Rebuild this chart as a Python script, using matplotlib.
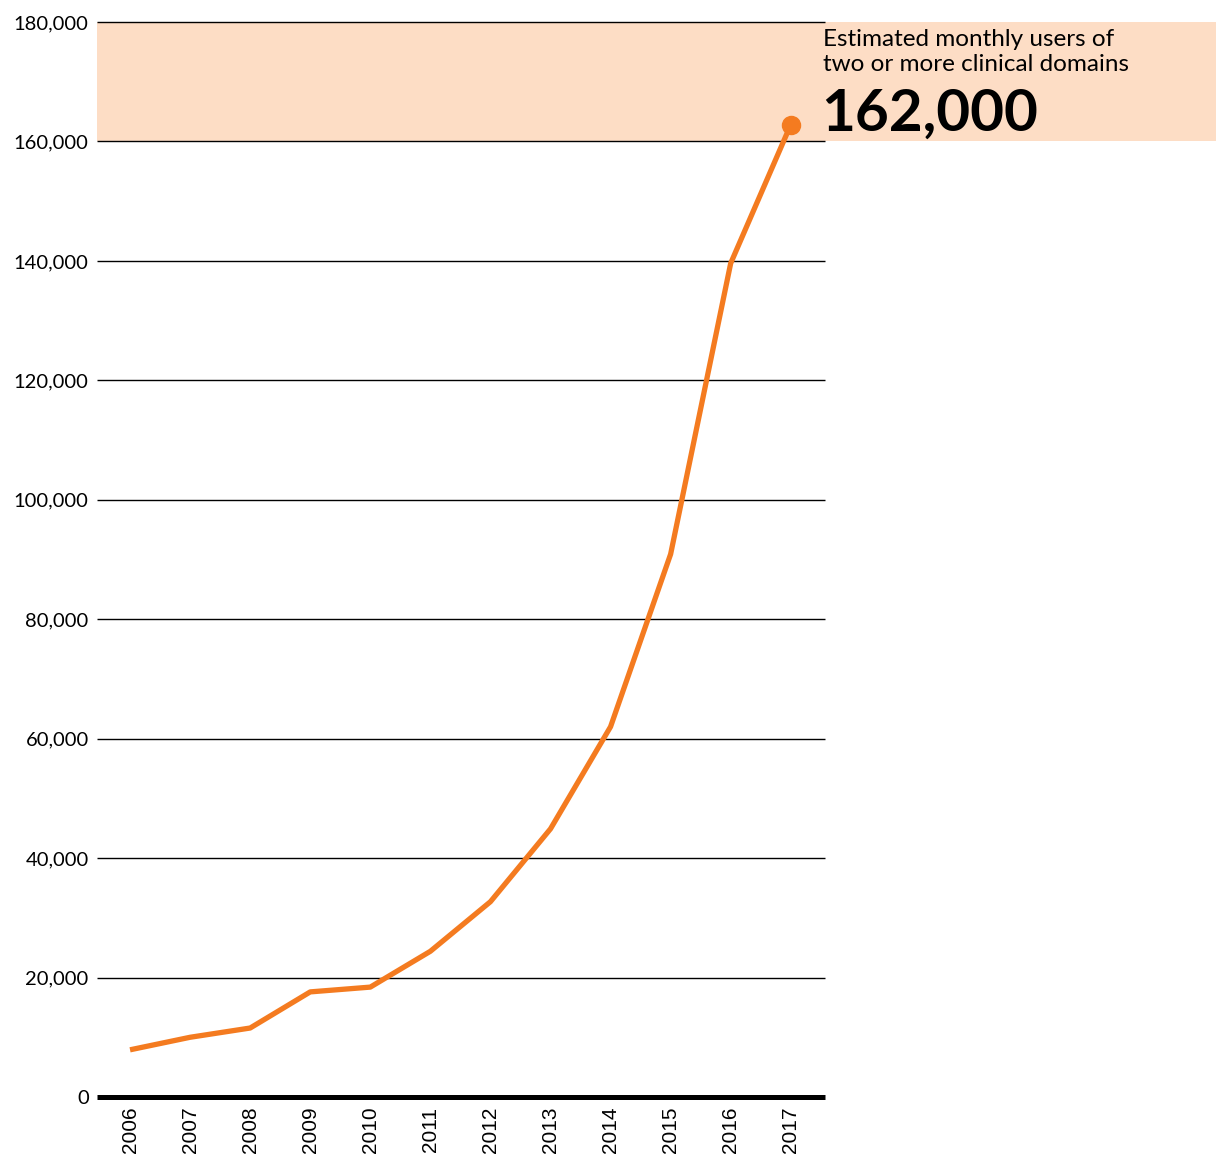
import matplotlib.pyplot as plt
import matplotlib.patches as mpatches

# data
years = [2006, 2007, 2008, 2009, 2010, 2011, 2012, 2013, 2014, 2015, 2016, 2017]
users = [7900, 10000, 11550, 17600, 18400, 24400, 32700, 44900, 62000, 90900, 139600, 162800]
y_ticks = [0, 20000, 40000, 60000, 80000, 100000, 120000, 140000, 160000, 180000]
band = (160000, 180000)
label_lines = "Estimated monthly users of\ntwo or more clinical domains"
label_value = "162,000"

orange = '#F47B20'
peach = '#FDDDC5'

fig = plt.figure(figsize=(12.16, 11.58), dpi=100)
ax = fig.add_axes([97 / 1216, 1 - 1097 / 1158, (825 - 97) / 1216, (1097 - 22) / 1158])
ax.set_xlim(2005.45, 2017.57)
ax.set_ylim(0, 180000)

# highlight band reaching out to the right edge of the figure
ax.add_patch(mpatches.Rectangle((2005.45, band[0]), 30, band[1] - band[0],
                                facecolor=peach, edgecolor='none', clip_on=False, zorder=0))

for v in y_ticks[1:]:
    ax.axhline(v, color='black', lw=1.0, zorder=1, clip_on=False, solid_capstyle='butt')
ax.axhline(0, color='black', lw=3.6, zorder=3, clip_on=False, solid_capstyle='butt')

ax.plot(years, users, color=orange, lw=3.8, solid_capstyle='butt', zorder=4)
ax.plot(years[-1], users[-1], 'o', color=orange, ms=13, zorder=5, clip_on=False)

for s in ax.spines.values():
    s.set_visible(False)

ax.set_yticks(y_ticks)
ax.set_yticklabels([f"{v:,}" for v in y_ticks], fontfamily='Lato', fontsize=14.5)
ax.set_xticks(years)
ax.set_xticklabels([str(y) for y in years], rotation=90, fontfamily='Liberation Sans', fontsize=15)
ax.tick_params(axis='y', length=0, pad=6)
ax.tick_params(axis='x', length=0, pad=7)

fig.text(823 / 1216, 1 - 29 / 1158, label_lines, fontfamily='Lato', fontsize=17.5,
         va='top', ha='left', linespacing=1.25)
fig.text(821 / 1216, 1 - 131 / 1158, label_value, fontfamily='Lato', fontweight='bold',
         fontsize=42, va='baseline', ha='left')

fig.savefig('out.png', dpi=100)
